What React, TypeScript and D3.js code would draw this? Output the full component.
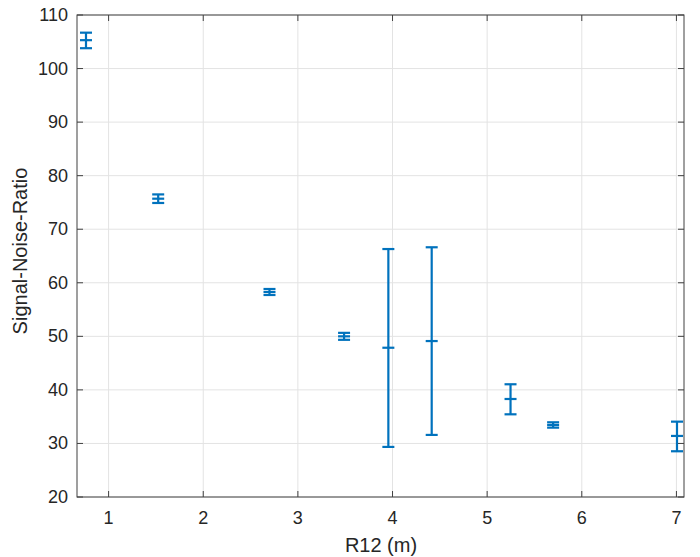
import React from "react";
import * as d3 from "d3";

const xValues = [0.761, 1.524, 2.7, 3.488, 3.956, 4.414, 5.247, 5.697, 7.006];
const yValues = [105.3, 75.7, 58.28, 50.0, 47.87, 49.12, 38.3, 33.45, 31.4];
const yLower = [103.8, 74.9, 57.72, 49.35, 29.35, 31.59, 35.44, 32.95, 28.54];
const yUpper = [106.7, 76.5, 58.84, 50.65, 66.3, 66.63, 41.05, 33.95, 34.07];
const xTicks = [1, 2, 3, 4, 5, 6, 7];
const yTicks = [20, 30, 40, 50, 60, 70, 80, 90, 100, 110];
const xLabel = "R12 (m)";
const yLabel = "Signal-Noise-Ratio";

const W = 700;
const H = 557;
const L = 77;
const R = 684;
const T = 15;
const B = 497;

export default function App() {
  const x = d3.scaleLinear().domain([0.666, 7.08]).range([L, R]);
  const y = d3.scaleLinear().domain([20, 110]).range([B, T]);
  const blue = "#0072BD";
  const axisColor = "#404040";
  const grid = "#e3e3e3";
  const font = "'Liberation Sans', Arial, Helvetica, sans-serif";
  const tl = 6;
  const cap = 6;
  return (
    <svg width={W} height={H} style={{ position: "absolute", left: 0, top: 0, background: "#fff" }}>
      <rect x={0} y={0} width={W} height={H} fill="#fff" />
      {xTicks.map((t) => (
        <line key={"gx" + t} x1={x(t)} x2={x(t)} y1={T} y2={B} stroke={grid} strokeWidth={1} />
      ))}
      {yTicks.map((t) => (
        <line key={"gy" + t} x1={L} x2={R} y1={y(t)} y2={y(t)} stroke={grid} strokeWidth={1} />
      ))}
      {xValues.map((xv, i) => {
        const cx = x(xv);
        return (
          <g key={"e" + i} stroke={blue} strokeWidth={2.2} fill="none">
            <line x1={cx} x2={cx} y1={y(yLower[i])} y2={y(yUpper[i])} />
            <line x1={cx - cap} x2={cx + cap} y1={y(yLower[i])} y2={y(yLower[i])} />
            <line x1={cx - cap} x2={cx + cap} y1={y(yUpper[i])} y2={y(yUpper[i])} />
            <line x1={cx - cap} x2={cx + cap} y1={y(yValues[i])} y2={y(yValues[i])} />
          </g>
        );
      })}
      <rect x={L} y={T} width={R - L} height={B - T} fill="none" stroke={axisColor} strokeWidth={1} />
      {xTicks.map((t) => (
        <g key={"tx" + t}>
          <line x1={x(t)} x2={x(t)} y1={B} y2={B - tl} stroke={axisColor} />
          <line x1={x(t)} x2={x(t)} y1={T} y2={T + tl} stroke={axisColor} />
          <text x={x(t)} y={518} textAnchor="middle" dominantBaseline="central" fontFamily={font} fontSize={18} fill="#262626">
            {t}
          </text>
        </g>
      ))}
      {yTicks.map((t) => (
        <g key={"ty" + t}>
          <line x1={L} x2={L + tl} y1={y(t)} y2={y(t)} stroke={axisColor} />
          <line x1={R} x2={R - tl} y1={y(t)} y2={y(t)} stroke={axisColor} />
          <text x={68} y={y(t)} textAnchor="end" dominantBaseline="central" fontFamily={font} fontSize={18} fill="#262626">
            {t}
          </text>
        </g>
      ))}
      <text x={381} y={545} textAnchor="middle" dominantBaseline="central" fontFamily={font} fontSize={20} fill="#262626">
        {xLabel}
      </text>
      <text
        transform={`translate(20, 251) rotate(-90)`}
        textAnchor="middle"
        dominantBaseline="central"
        fontFamily={font}
        fontSize={20}
        fill="#262626"
      >
        {yLabel}
      </text>
    </svg>
  );
}
